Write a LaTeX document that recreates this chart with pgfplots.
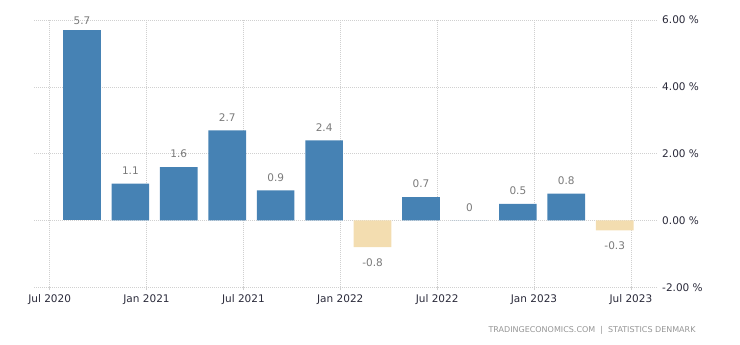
\documentclass[border=0pt]{standalone}
\usepackage{pgfplots}
\pgfplotsset{compat=1.18}
\usepackage{fontspec}
\setmainfont{DejaVu Sans}
\definecolor{barblue}{HTML}{4682B4}
\definecolor{barneg}{HTML}{F3DDB0}
\definecolor{lblgray}{HTML}{7A7A7A}
\definecolor{tickc}{HTML}{2A2A3A}
\definecolor{gridc}{HTML}{D0D0D0}
\definecolor{wmark}{HTML}{959595}
\begin{document}
\begin{tikzpicture}[x=1pt,y=1pt]
\path[use as bounding box] (0,0) rectangle (740,345);
\begin{axis}[
  at={(34.3pt,57.7pt)}, anchor=south west,
  scale only axis, width=622.4pt, height=267.3pt,
  xmin=-0.95, xmax=37.6, ymin=-2, ymax=6,
  axis line style={draw=none},
  ybar, bar width=2.33,
  xtick={0,6,12,18,24,30,36},
  xticklabels={Jul 2020,Jan 2021,Jul 2021,Jan 2022,Jul 2022,Jan 2023,Jul 2023},
  ytick={-2,0,2,4,6},
  yticklabels={-2.00 \%,0.00 \%,2.00 \%,4.00 \%,6.00 \%},
  yticklabel pos=right,
  xtick pos=bottom,
  xtick align=outside,
  major tick length=3pt,
  xtick style={gridc, line width=0.6pt},
  ytick style={draw=none},
  grid=major,
  major grid style={gridc, line width=0.6pt, dash pattern=on 1pt off 1pt},
  xticklabel style={font=\fontsize{10.5}{12}\selectfont, text=tickc, yshift=-1pt},
  yticklabel style={font=\fontsize{10.5}{12}\selectfont, text=tickc, anchor=west, xshift=2pt},
  tick label style={/pgf/number format/assume math mode=true},
  nodes near coords,
  point meta=explicit symbolic,
  nodes near coords style={font=\fontsize{10.5}{12}\selectfont, text=lblgray},
]
\addplot[fill=barblue, draw=none, bar shift=0pt,
  nodes near coords style={anchor=south, yshift=2pt}]
  table[x=x, y=y, meta=lab] {
x y lab
2 5.7 5.7
};
\addplot[fill=barblue, draw=none, bar shift=0pt,
  nodes near coords style={anchor=south, yshift=5.5pt}]
  table[x=x, y=y, meta=lab] {
x y lab
5 1.1 1.1
8 1.6 1.6
11 2.7 2.7
14 0.9 0.9
17 2.4 2.4
23 0.7 0.7
26 0 0
29 0.5 0.5
32 0.8 0.8
};
\addplot[fill=barneg, draw=none, bar shift=0pt,
  nodes near coords style={anchor=north, yshift=-8pt}]
  table[x=x, y=y, meta=lab] {
x y lab
20 -0.8 -0.8
35 -0.3 -0.3
};
\end{axis}
\node[text=wmark, font=\fontsize{8}{9}\selectfont, anchor=center] at (592,15) {TRADINGECONOMICS.COM \ | \ STATISTICS DENMARK};
\end{tikzpicture}
\end{document}
